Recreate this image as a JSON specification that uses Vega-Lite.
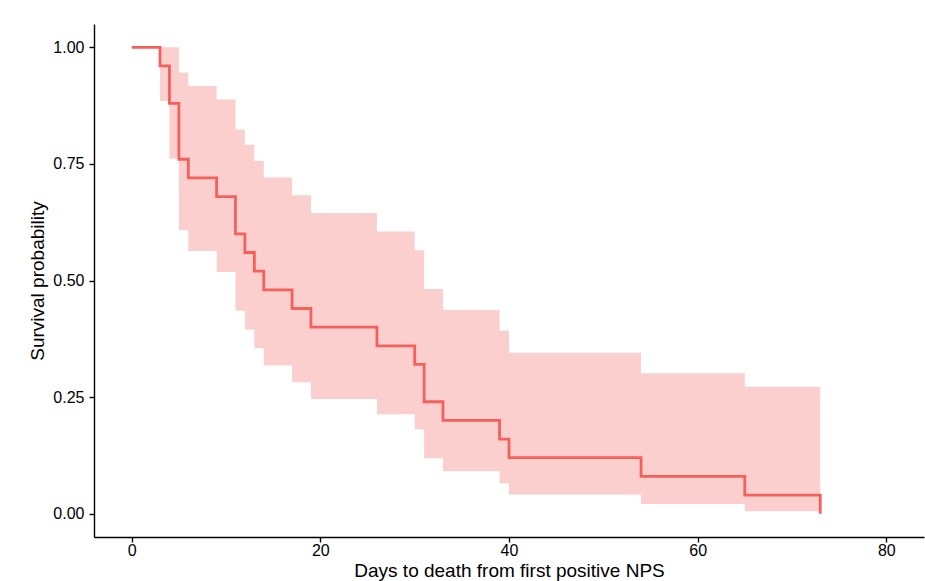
{
  "$schema": "https://vega.github.io/schema/vega-lite/v6.json",
  "width": 830,
  "height": 513,
  "autosize": {"type": "none"},
  "padding": {"left": 94, "top": 24, "right": 1, "bottom": 44},
  "background": "white",
  "config": {
    "view": {"stroke": null},
    "font": "Liberation Sans",
    "axis": {
      "grid": false,
      "domainColor": "#000000",
      "domainWidth": 1.4,
      "tickColor": "#000000",
      "tickWidth": 1.4,
      "tickSize": 5,
      "labelColor": "#000000",
      "labelFontSize": 16,
      "labelFont": "Liberation Sans",
      "titleColor": "#000000",
      "titleFontWeight": "normal",
      "titleFont": "Liberation Sans"
    }
  },
  "data": {
    "values": [
      {"time": 0, "surv": 1.0, "lower": 1.0, "upper": 1.0},
      {"time": 3, "surv": 0.96, "lower": 0.885, "upper": 1.0},
      {"time": 4, "surv": 0.88, "lower": 0.761, "upper": 1.0},
      {"time": 5, "surv": 0.76, "lower": 0.608, "upper": 0.946},
      {"time": 6, "surv": 0.72, "lower": 0.563, "upper": 0.917},
      {"time": 9, "surv": 0.68, "lower": 0.518, "upper": 0.888},
      {"time": 11, "surv": 0.6, "lower": 0.435, "upper": 0.824},
      {"time": 12, "surv": 0.56, "lower": 0.395, "upper": 0.791},
      {"time": 13, "surv": 0.52, "lower": 0.355, "upper": 0.756},
      {"time": 14, "surv": 0.48, "lower": 0.318, "upper": 0.721},
      {"time": 17, "surv": 0.44, "lower": 0.282, "upper": 0.683},
      {"time": 19, "surv": 0.4, "lower": 0.246, "upper": 0.645},
      {"time": 26, "surv": 0.36, "lower": 0.213, "upper": 0.605},
      {"time": 30, "surv": 0.32, "lower": 0.181, "upper": 0.565},
      {"time": 31, "surv": 0.24, "lower": 0.119, "upper": 0.482},
      {"time": 33, "surv": 0.2, "lower": 0.091, "upper": 0.437},
      {"time": 39, "surv": 0.16, "lower": 0.065, "upper": 0.392},
      {"time": 40, "surv": 0.12, "lower": 0.041, "upper": 0.345},
      {"time": 54, "surv": 0.08, "lower": 0.021, "upper": 0.301},
      {"time": 65, "surv": 0.04, "lower": 0.005, "upper": 0.272},
      {"time": 73, "surv": 0.0, "lower": 0.005, "upper": 0.272}
    ]
  },
  "encoding": {
    "x": {
      "field": "time",
      "type": "quantitative",
      "scale": {"domain": [-4, 84], "nice": false, "zero": false},
      "axis": {
        "values": [0, 20, 40, 60, 80],
        "labelPadding": 0,
        "title": "Days to death from first positive NPS",
        "titleFontSize": 19,
        "titleBaseline": "alphabetic",
        "titleY": 39
      }
    }
  },
  "layer": [
    {
      "mark": {"type": "area", "interpolate": "step-after", "color": "#FCCFCF", "opacity": 1},
      "encoding": {
        "y": {
          "field": "lower",
          "type": "quantitative",
          "scale": {"domain": [-0.05, 1.05], "nice": false, "zero": false},
          "axis": {
            "values": [0, 0.25, 0.5, 0.75, 1],
            "format": ".2f",
            "labelPadding": 5,
            "title": "Survival probability",
            "titleFontSize": 19,
            "titleBaseline": "alphabetic",
            "titleX": -51
          }
        },
        "y2": {"field": "upper"}
      }
    },
    {
      "mark": {"type": "line", "interpolate": "step-after", "color": "#F6605B", "strokeWidth": 2.8},
      "encoding": {
        "y": {
          "field": "surv",
          "type": "quantitative",
          "scale": {"domain": [-0.05, 1.05], "nice": false, "zero": false},
          "axis": {
            "values": [0, 0.25, 0.5, 0.75, 1],
            "format": ".2f",
            "labelPadding": 5,
            "title": "Survival probability",
            "titleFontSize": 19,
            "titleBaseline": "alphabetic",
            "titleX": -51
          }
        }
      }
    }
  ]
}
